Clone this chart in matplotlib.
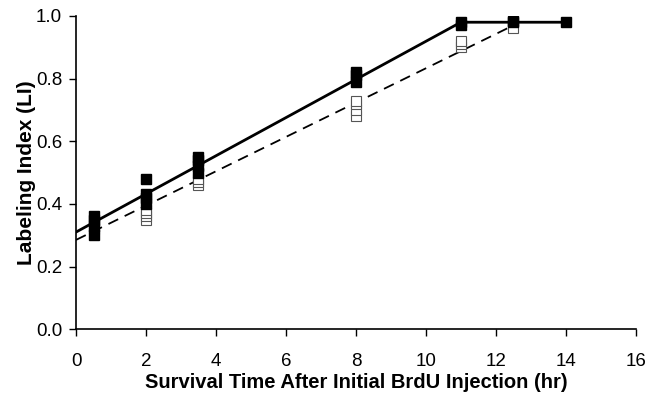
import matplotlib.pyplot as plt

plt.rcParams['font.family'] = ['Liberation Sans', 'DejaVu Sans']

# measured LI values (filled = one group, open = other group)
filled_x = [0.5, 0.5, 0.5, 0.5, 2, 2, 2, 2, 3.5, 3.5, 3.5, 3.5, 8, 8, 8, 11, 11, 12.5, 12.5, 14]
filled_y = [0.30, 0.33, 0.35, 0.36, 0.48, 0.40, 0.42, 0.43, 0.50, 0.52, 0.54, 0.55,
            0.79, 0.81, 0.82, 0.97, 0.98, 0.98, 0.985, 0.98]
open_x = [0.5, 2, 2, 2, 2, 3.5, 3.5, 3.5, 8, 8, 8, 8, 11, 11, 11, 12.5]
open_y = [0.32, 0.35, 0.36, 0.37, 0.38, 0.46, 0.47, 0.48, 0.68, 0.70, 0.72, 0.73,
          0.90, 0.91, 0.92, 0.96]

# fitted lines
fit_solid_x = [0, 11, 14]
fit_solid_y = [0.31, 0.98, 0.98]
fit_dash_x = [0, 12.5]
fit_dash_y = [0.285, 0.97]

fig = plt.figure(figsize=(6.61, 3.99), dpi=100)
ax = fig.add_axes([0.115, 0.175, 0.847, 0.785])

ax.plot(fit_solid_x, fit_solid_y, color='black', lw=2, zorder=2)
ax.plot(fit_dash_x, fit_dash_y, color='black', lw=1.3, ls=(0, (6, 4)), zorder=2)
ax.plot(open_x, open_y, ls='none', marker='s', ms=7.2, mfc='white', mec='#555555', mew=0.8, zorder=3)
ax.plot(filled_x, filled_y, ls='none', marker='s', ms=7.2, mfc='black', mec='black', zorder=4)

ax.set_xlim(0, 16)
ax.set_ylim(0, 1.0)
ax.set_xticks(range(0, 17, 2))
ax.set_yticks([0, 0.2, 0.4, 0.6, 0.8, 1.0])
ax.set_yticklabels(['0.0', '0.2', '0.4', '0.6', '0.8', '1.0'])
ax.tick_params(direction='out', length=5, labelsize=13.5, width=1)
ax.tick_params(axis='x', pad=12)
ax.tick_params(axis='y', pad=5)
ax.spines['top'].set_visible(False)
ax.spines['right'].set_visible(False)
ax.spines['left'].set_linewidth(1.2)
ax.spines['bottom'].set_linewidth(1.2)

ax.set_xlabel('Survival Time After Initial BrdU Injection (hr)', fontsize=14.5, fontweight='bold', labelpad=2)
ax.set_ylabel('Labeling Index (LI)', fontsize=15, fontweight='bold', labelpad=0)

fig.savefig('out.png', dpi=100)
